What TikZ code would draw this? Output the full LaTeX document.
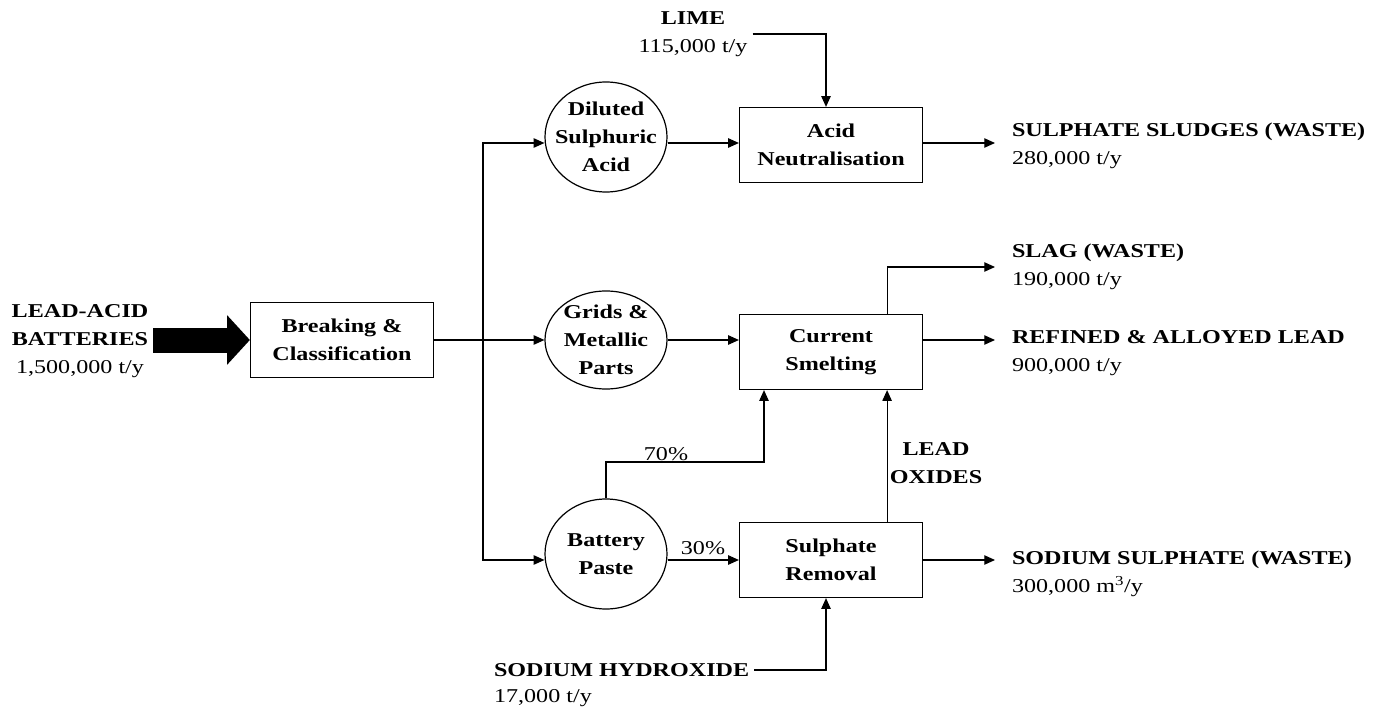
\documentclass[tikz,border=0pt]{standalone}
\usepackage{fontspec}
\setmainfont{Liberation Serif}[FakeStretch=1.23]
\usepackage{tikz}
\usetikzlibrary{calc,shapes.geometric,arrows.meta}
\newcommand\dfont{\fontsize{14.7}{21}\selectfont}

\begin{document}
\begin{tikzpicture}[x=0.75pt,y=-0.75pt,font=\dfont,line width=0.9pt,
        >={Triangle[length=8pt,width=7pt]},
        box/.style={draw,minimum width=137.25pt,minimum height=56.25pt,align=center,font=\dfont\bfseries},
        blob/.style={draw,ellipse,inner sep=-8pt,minimum width=91.5pt,minimum height=82.5pt,align=center,font=\dfont\bfseries},
        outlbl/.style={anchor=west,align=left,inner sep=0pt,outer sep=12.75pt}]
        \useasboundingbox (0,0) rectangle (1390,713);
        \node[align=center] (bat) at (80,341) {\textbf{LEAD-ACID}\\\textbf{BATTERIES}\\1,500,000 t/y};
        \node[box] (brk) at (342,340) {Breaking \&\\Classification};
        \node[blob] (dil) at (606,137) {Diluted\\Sulphuric\\Acid};
        \node[blob,minimum height=73.5pt] (grd) at (606,340) {Grids \&\\Metallic\\Parts};
        \node[blob] (pst) at (606,554) {Battery\\Paste};
        \node[box] (acn) at (831,145) {Acid\\Neutralisation};
        \node[box] (csm) at (831,352) {Current\\Smelting};
        \node[box] (srm) at (831,560) {Sulphate\\Removal};
        \node[align=center] (lime) at (693,34) {\textbf{LIME}\\115,000 t/y};
        \node[anchor=west,font=\dfont\bfseries] (soh) at (489,670) {SODIUM HYDROXIDE};
        \node[anchor=west] (sohq) at (489,698) {17,000 t/y};
        \node[outlbl] (slu) at (995,146) {\textbf{SULPHATE SLUDGES (WASTE)}\\280,000 t/y};
        \node[outlbl] (slg) at (995,267) {\textbf{SLAG (WASTE)}\\190,000 t/y};
        \node[outlbl] (ref) at (995,353) {\textbf{REFINED \& ALLOYED LEAD}\\900,000 t/y};
        \node[outlbl] (sos) at (995,574) {\textbf{SODIUM SULPHATE (WASTE)}\\300,000 m\textsuperscript{3}/y};
        \node[align=center,font=\dfont\bfseries] (lox) at (936,463) {LEAD\\OXIDES};
        \node (p70) at (666,454) {70\%};
        \node (p30) at (703,548) {30\%};
        \coordinate (t) at (483,340);
        \coordinate (r1) at (0,143);
        \coordinate (r3) at (0,560);
        \coordinate (k70) at (764,462);
        \draw[line width=18.75pt,-{Triangle[length=17pt,width=36pt]}] (bat.east |- brk.west) -- (brk.west);
        \draw (brk.east) -- (t);
        \draw[->] (t) |- (dil.west |- r1);
        \draw[->] (t) -- (grd.west);
        \draw[->] (t) |- (pst.west |- r3);
        \draw[->] (dil.east |- r1) -- (acn.west |- r1);
        \draw[->] (grd.east) -- (csm.west |- grd.east);
        \draw[->] (pst.east |- r3) -- (srm.west |- r3);
        \draw[->] (lime.east) -| ([xshift=-3.75pt]acn.north);
        \draw[->] (soh.east) -| ([xshift=-3.75pt]srm.south);
        \draw[->] (acn.east |- r1) -- (slu.west |- r1);
        \draw[->] ([xshift=-27pt]csm.north east) |- (slg.west);
        \draw[->] (csm.east |- grd.east) -- (ref.west |- grd.east);
        \draw[->] (srm.east) -- (sos.west |- srm.east);
        \draw[->] ([xshift=-27pt]srm.north east) -- ([xshift=-27pt]csm.south east);
        \draw[->] (pst.north) |- (k70) -- (csm.south -| k70);
\end{tikzpicture}
\end{document}
